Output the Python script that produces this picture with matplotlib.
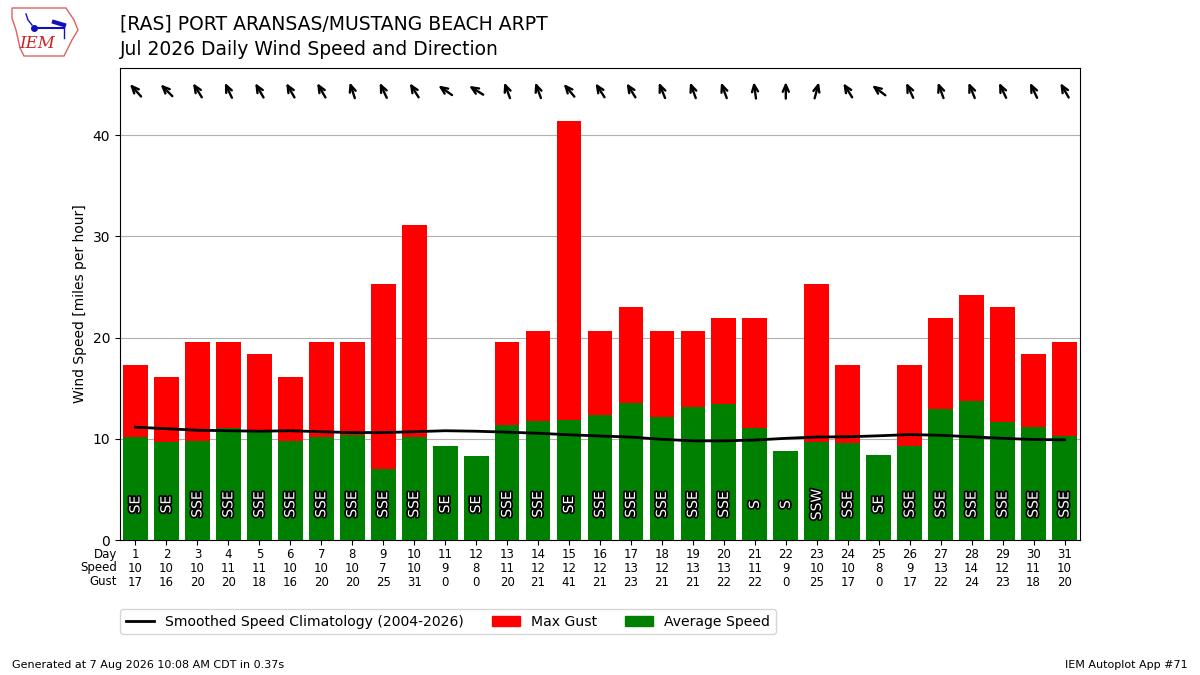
import matplotlib
matplotlib.use("Agg")
import matplotlib.pyplot as plt
import matplotlib.patheffects as PathEffects
from matplotlib.patches import Patch, Polygon
from matplotlib.lines import Line2D
from matplotlib.transforms import offset_copy
import numpy as np

# daily values (mph)
days = list(range(1, 32))
avg_speed = [10.2, 9.7, 9.8, 11.1, 10.8, 9.8, 10.2, 10.4, 7.0, 10.2,
             9.3, 8.3, 11.4, 11.8, 11.9, 12.4, 13.5, 12.2, 13.1, 13.4,
             11.1, 8.8, 9.7, 9.6, 8.4, 9.3, 12.9, 13.7, 11.7, 11.2, 10.3]
max_gust = [17.3, 16.1, 19.6, 19.6, 18.4, 16.1, 19.6, 19.6, 25.3, 31.1,
            0, 0, 19.6, 20.7, 41.4, 20.7, 23.0, 20.7, 20.7, 21.9,
            21.9, 0, 25.3, 17.3, 0, 17.3, 21.9, 24.2, 23.0, 18.4, 19.6]
avg_drct = [138, 135, 148, 155, 150, 150, 150, 162, 155, 148,
            125, 122, 160, 160, 140, 147, 148, 158, 160, 160,
            172, 180, 195, 148, 127, 155, 160, 158, 155, 155, 150]
drct_txt = ["SE", "SE", "SSE", "SSE", "SSE", "SSE", "SSE", "SSE", "SSE", "SSE",
            "SE", "SE", "SSE", "SSE", "SE", "SSE", "SSE", "SSE", "SSE", "SSE",
            "S", "S", "SSW", "SSE", "SE", "SSE", "SSE", "SSE", "SSE", "SSE", "SSE"]
speed_lbl = [10, 10, 10, 11, 11, 10, 10, 10, 7, 10, 9, 8, 11, 12, 12, 12,
             13, 12, 13, 13, 11, 9, 10, 10, 8, 9, 13, 14, 12, 11, 10]
gust_lbl = [17, 16, 20, 20, 18, 16, 20, 20, 25, 31, 0, 0, 20, 21, 41, 21,
            23, 21, 21, 22, 22, 0, 25, 17, 0, 17, 22, 24, 23, 18, 20]
clim = [11.15, 11.0, 10.85, 10.8, 10.75, 10.8, 10.7, 10.62, 10.62, 10.7,
        10.8, 10.75, 10.66, 10.55, 10.4, 10.28, 10.17, 9.95, 9.8, 9.8,
        9.88, 10.05, 10.18, 10.2, 10.3, 10.42, 10.35, 10.2, 10.05, 9.93, 9.9]

fig = plt.figure(figsize=(12, 6.75), dpi=100)
ax = fig.add_axes([0.1, 0.2, 0.8, 0.7])

ax.bar(days, max_gust, width=0.8, color="#ff0000", zorder=2)
ax.bar(days, avg_speed, width=0.8, color="#008000", zorder=3)
ax.plot(days, clim, color="k", lw=2, zorder=4)

for d, txt in zip(days, drct_txt):
    t = ax.text(d, 3.5, txt, rotation=90, ha="center", va="center",
                color="white", fontsize=10, zorder=5)
    t.set_path_effects([PathEffects.withStroke(linewidth=2.5, foreground="k")])

# wind direction arrows (pointing where the wind blows to)
alen = 12  # points
for d, drct in zip(days, avg_drct):
    u = -np.sin(np.radians(drct))
    v = -np.cos(np.radians(drct))
    head = offset_copy(ax.transData, fig=fig, x=u * alen / 2, y=v * alen / 2, units="points")
    ax.annotate("", xy=(d, 44.45), xycoords=head,
                xytext=(-u * alen, -v * alen), textcoords="offset points",
                arrowprops=dict(arrowstyle="->,head_length=0.5,head_width=0.22", lw=1.7,
                                color="k", mutation_scale=10, shrinkA=0, shrinkB=0))

ax.set_xlim(0.5, 31.5)
ax.set_ylim(0, 46.7)
ax.set_yticks([0, 10, 20, 30, 40])
ax.yaxis.grid(True, color="#b0b0b0", lw=0.8, zorder=0)
ax.set_axisbelow(True)
ax.set_ylabel("Wind Speed [miles per hour]", fontsize=10)
ax.set_xticks(days)
ax.set_xticklabels([f"{d}\n{s}\n{g}" for d, s, g in zip(days, speed_lbl, gust_lbl)],
                   fontsize=8.5, linespacing=1.08)
ax.tick_params(axis="x", pad=2.5)
ax.text(-0.003, -0.016, "Day\nSpeed\nGust", transform=ax.transAxes, ha="right",
        va="top", fontsize=8.5, linespacing=1.08)

handles = [Line2D([], [], color="k", lw=2),
           Patch(color="#ff0000"), Patch(color="#008000")]
fig.legend(handles, ["Smoothed Speed Climatology (2004-2026)", "Max Gust", "Average Speed"],
           loc="upper left", bbox_to_anchor=(0.1, 1 - 609 / 675), ncol=3, fontsize=10.1,
           borderaxespad=0)

fig.text(0.1, 1 - 15 / 675, "[RAS] PORT ARANSAS/MUSTANG BEACH ARPT\nJul 2026 Daily Wind Speed and Direction",
         fontsize=13.5, va="top", ha="left", linespacing=1.38)
fig.text(0.01, 1 - 665 / 675, "Generated at 7 Aug 2026 10:08 AM CDT in 0.37s", fontsize=8, va="center")
fig.text(0.99, 1 - 665 / 675, "IEM Autoplot App #71", fontsize=8, va="center", ha="right")

# small stand-in for the IEM logo
lax = fig.add_axes([8 / 1200, 1 - 58 / 675, 72 / 1200, 52 / 675])
lax.set_xlim(0, 72)
lax.set_ylim(0, 52)
lax.axis("off")
iowa = [(4, 50), (58, 50), (62, 44), (66, 38), (70, 28), (64, 18), (60, 10), (56, 2),
        (16, 2), (12, 10), (8, 28), (4, 40)]
lax.add_patch(Polygon(iowa, closed=True, fill=False, ec="#e06060", lw=1))
lax.plot([26, 56], [30, 30], color="#1010c0", lw=1.5)
lax.plot([26], [30], "o", color="#1010c0", ms=4)
lax.plot([18, 20, 24], [44, 38, 33], color="#1010c0", lw=1)
lax.plot([46, 56], [36, 33], color="#1010c0", lw=3)
lax.plot([56, 56], [33, 20], color="#1010c0", lw=1)
lax.text(29, 14, "IEM", color="#d02020", fontsize=12, family="DejaVu Serif",
         style="italic", ha="center", va="center")

fig.savefig("out.png", dpi=100)
